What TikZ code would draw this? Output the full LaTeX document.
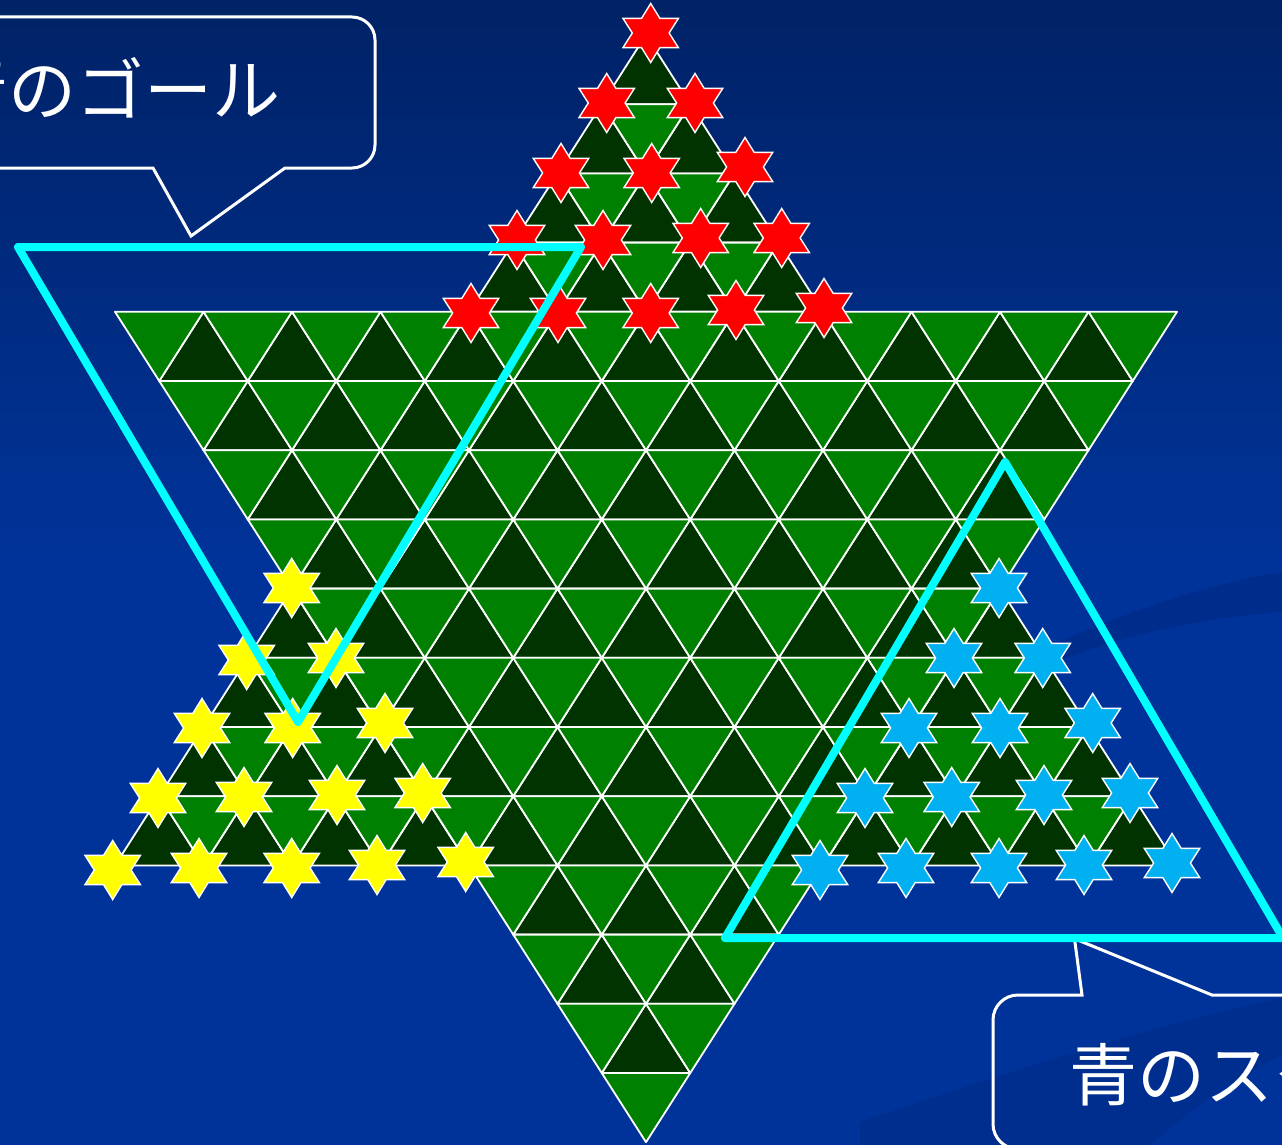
\documentclass[tikz,border=0pt]{standalone}
\usepackage{fontspec}
\newfontfamily\jpfont{Noto Sans CJK JP}
\definecolor{bgtop}{RGB}{0,34,102}
\definecolor{bgbot}{RGB}{0,51,153}
\definecolor{swooshc}{RGB}{0,40,130}
\definecolor{cellD}{RGB}{0,51,0}
\definecolor{cellL}{RGB}{0,128,0}
\definecolor{starR}{RGB}{255,0,0}
\definecolor{starY}{RGB}{255,255,0}
\definecolor{starB}{RGB}{0,176,240}
\definecolor{goalC}{RGB}{0,255,255}
\newcommand\bdX[2]{646+(#2-(#1)/2)*88.5}
\newcommand\bdY[1]{35+(#1)*69.2}
\newcommand\bdUp[2]{\filldraw[darkcell] ({\bdX{#1}{#2}},{\bdY{#1}}) -- ({\bdX{#1+1}{#2}},{\bdY{#1+1}}) -- ({\bdX{#1+1}{#2+1}},{\bdY{#1+1}}) -- cycle;}
\newcommand\bdDown[2]{\filldraw[lightcell] ({\bdX{#1}{#2}},{\bdY{#1}}) -- ({\bdX{#1}{#2+1}},{\bdY{#1}}) -- ({\bdX{#1+1}{#2+1}},{\bdY{#1+1}}) -- cycle;}
\newcommand\hstar[3]{\filldraw[piece,fill=#3,shift={(#1,#2)}] (0,-29.5) -- (9.2,-14.6) -- (27.7,-14.6) -- (18.4,0) -- (27.7,14.6) -- (9.2,14.6) -- (0,29.5) -- (-9.2,14.6) -- (-27.7,14.6) -- (-18.4,0) -- (-27.7,-14.6) -- (-9.2,-14.6) -- cycle;}
\begin{document}
\begin{tikzpicture}[x=1pt,y=-1pt,
  cellline/.style={draw=white,line width=1.8pt,line join=round},
  darkcell/.style={cellline,fill=cellD},
  lightcell/.style={cellline,fill=cellL},
  piece/.style={draw=white,line width=1.4pt,line join=miter},
  goal/.style={draw=goalC,line width=8pt,line join=round,line cap=round},
  callout/.style={draw=white,line width=3pt,line join=miter},
  lbl/.style={text=white,font=\jpfont\fontsize{68}{80}\selectfont,inner sep=0pt}]
\useasboundingbox (0,0) rectangle (1282,1145);
\clip (0,0) rectangle (1282,1145);
% background
\fill[top color=bgtop,bottom color=bgbot] (0,0) rectangle (1282,560);
\fill[bgbot] (0,559) rectangle (1282,1145);
\fill[swooshc,opacity=0.6] (1282,572) .. controls (1200,585) and (1120,615) .. (1040,650)
  -- (1040,668) .. controls (1120,635) and (1200,618) .. (1282,612) -- cycle;
\fill[swooshc,opacity=0.45] (1282,998) .. controls (1150,1025) and (1000,1075) .. (860,1122)
  -- (860,1145) -- (1150,1145) .. controls (1190,1110) and (1240,1075) .. (1282,1055) -- cycle;
% board: up triangle
\foreach \r in {0,...,11} {
  \foreach \j in {0,...,\r} { \bdUp{\r}{\j} }
}
\foreach \r in {1,...,11} {
  \pgfmathtruncatemacro\hi{\r-1}
  \foreach \j in {0,...,\hi} { \bdDown{\r}{\j} }
}
% board: down triangle
\foreach \r in {4,...,14} {
  \pgfmathtruncatemacro\lo{\r-7}
  \foreach \j in {\lo,...,7} { \bdUp{\r}{\j} }
}
\foreach \r in {4,...,15} {
  \pgfmathtruncatemacro\lo{\r-8}
  \foreach \j in {\lo,...,7} { \bdDown{\r}{\j} }
}
% pieces
\foreach \px/\py in {650.7/33,606.7/103,695/103,561/173,651.7/173,745/167,
  517/240,603/240,700.7/238,781.7/238,471/313,558/313,650.7/313,736/310,824/308}
  { \hstar{\px}{\py}{starR} }
\foreach \px/\py in {291.7/588,246.7/660,336/658,202/728,292.7/728,385/723,
  158/798,244/797,337/795,422.7/793,112.7/870,199/868,291.7/868,377/865,465.7/862}
  { \hstar{\px}{\py}{starY} }
\foreach \px/\py in {999/588,954/658,1042.7/658,909/728,1000/728,1092.7/723,
  865/798,951.7/797,1044/795,1130/793,820/870,906/868,999/868,1084/865,1172/863}
  { \hstar{\px}{\py}{starB} }
% callouts
\draw[callout] (-20,17) -- (352,17) .. controls (364.7,17) and (375,27.3) .. (375,40)
  -- (375,145) .. controls (375,157.7) and (364.7,168) .. (352,168)
  -- (285,168) -- (191,236) -- (153,168) -- (-20,168);
\node[lbl,anchor=base east] (lab1) at (281,116) {青のゴール};
\draw[callout] (1300,995) -- (1212,995) -- (1074.5,938.7) -- (1082,995) -- (1018,995)
  .. controls (1004.2,995) and (993,1006.2) .. (993,1020) -- (993,1124)
  .. controls (993,1137.8) and (1004.2,1149) .. (1018,1149) -- (1300,1149);
\node[lbl,anchor=base west] (lab2) at (1069,1100) {青のスタート};
% goal / start areas
\coordinate (g1a) at (18,247);
\coordinate (g1b) at (581,247);
\coordinate (g1c) at (298,722);
\draw[goal] (g1a) -- (g1b) -- (g1c) -- cycle;
\coordinate (g2a) at (1005,462);
\coordinate (g2b) at (1283,938);
\coordinate (g2c) at (725,938);
\draw[goal] (g2a) -- (g2b) -- (g2c) -- cycle;
\end{tikzpicture}
\end{document}
